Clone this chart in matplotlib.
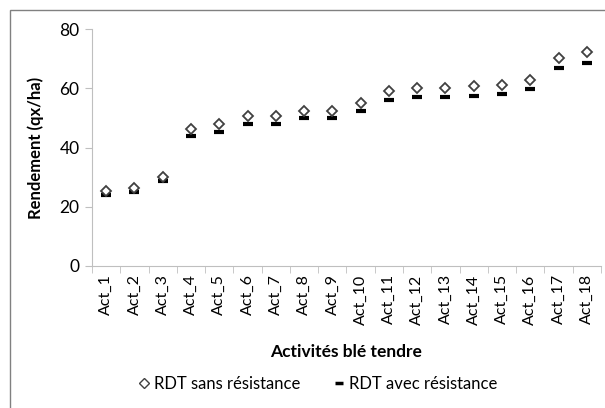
import matplotlib
matplotlib.use("Agg")
import matplotlib.pyplot as plt
from matplotlib.patches import Rectangle
from matplotlib.lines import Line2D

# data
activites = ["Act_%d" % i for i in range(1, 19)]
rdt_sans = [25.3, 26.3, 30.2, 46.2, 48.0, 50.6, 50.6, 52.4, 52.4,
            55.0, 59.1, 60.0, 60.0, 60.6, 61.0, 62.8, 70.2, 72.1]
rdt_avec = [24.1, 24.9, 28.7, 44.0, 45.4, 48.0, 48.0, 49.8, 49.8,
            52.3, 56.2, 57.2, 57.2, 57.5, 58.0, 59.7, 66.7, 68.6]
yticks = [0, 20, 40, 60, 80]

plt.rcParams["font.family"] = ["Lato", "DejaVu Sans"]

fig = plt.figure(figsize=(6.05, 4.08), dpi=100)
ax = fig.add_axes([92 / 605, 1 - 266 / 408, (601 - 92) / 605, (266 - 29) / 408])

# chart area frame (Excel style), right/bottom edges fall outside the image
fig.patches.append(Rectangle((10 / 605, -0.05), 1.2, 1 - 10 / 408 + 0.05,
                             transform=fig.transFigure, fill=False,
                             edgecolor="#808080", linewidth=1.0))

x = list(range(1, len(activites) + 1))
ax.plot(x, rdt_sans, linestyle="none", marker="D", markersize=5.5,
        markerfacecolor="white", markeredgecolor="#404040", markeredgewidth=1.3,
        zorder=3)
ax.plot(x, rdt_avec, linestyle="none", marker="_", markersize=7,
        markeredgecolor="black", markeredgewidth=3, zorder=2)

ax.set_xlim(0.5, len(activites) + 0.5)
ax.set_ylim(0, 80)
ax.set_yticks(yticks)
ax.set_xticks(x)
ax.set_xticklabels(activites, rotation=90, fontsize=11.5)
ax.set_xticks([i + 0.5 for i in range(len(activites) + 1)], minor=True)
ax.tick_params(axis="x", which="major", length=0, pad=6)
ax.tick_params(axis="x", which="minor", length=5, color="#BFBFBF", direction="out")
ax.tick_params(axis="y", length=5, color="#BFBFBF", labelsize=12.5, pad=4)

for side in ["top", "right"]:
    ax.spines[side].set_visible(False)
for side in ["left", "bottom"]:
    ax.spines[side].set_color("#BFBFBF")

ax.set_ylabel("Rendement (qx/ha)", fontsize=12, fontweight="bold", labelpad=11)
ax.set_xlabel("Activités blé tendre", fontsize=12.5, fontweight="bold", labelpad=14)

handles = [
    Line2D([], [], linestyle="none", marker="D", markersize=5,
           markerfacecolor="white", markeredgecolor="#404040", markeredgewidth=1.0),
    Line2D([], [], linestyle="none", marker="_", markersize=6,
           markeredgecolor="black", markeredgewidth=2.5),
]
fig.legend(handles, ["RDT sans résistance", "RDT avec résistance"],
           loc="center", bbox_to_anchor=(318 / 605, 1 - 384 / 408), ncol=2,
           frameon=False, fontsize=12, handlelength=0.6, handletextpad=0.3,
           columnspacing=2.0)

fig.savefig("out.png", dpi=100)
